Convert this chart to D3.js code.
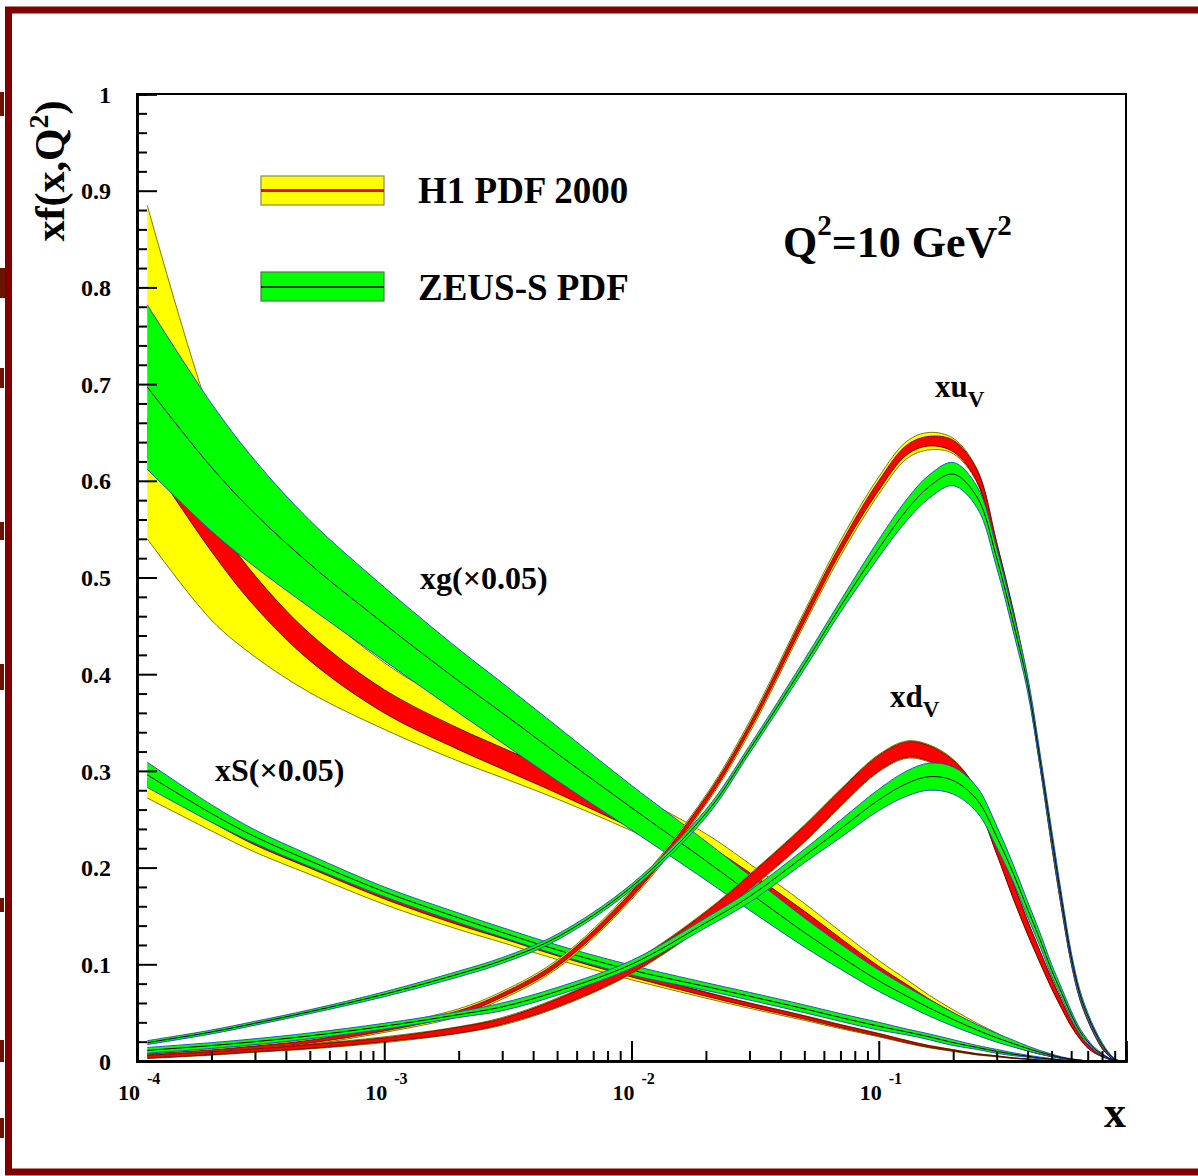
<!DOCTYPE html>
<html><head><meta charset="utf-8">
<script src="https://cdn.jsdelivr.net/npm/d3@7"></script>
<style>
body{margin:0;background:#fff;}
svg{display:block;}
text{font-family:"Liberation Serif","Times New Roman",serif;font-weight:bold;fill:#000;}
</style>
</head><body>
<svg id="c" width="1198" height="1176"></svg>
<script>
// ---------------- DATA ----------------
const xGrid = [1.1e-4, 2e-4, 3e-4, 5e-4, 1e-3, 2e-3, 3e-3, 5e-3, 0.01, 0.02, 0.03, 0.05, 0.07, 0.1, 0.13, 0.16, 0.2, 0.25, 0.3, 0.35, 0.4, 0.45, 0.5, 0.55, 0.6, 0.65, 0.7, 0.75, 0.8, 0.85, 0.9, 0.95];

// ZEUS-S PDF : central value and half-width of the band
const zeusXg   = [0.697, 0.614, 0.566, 0.514, 0.452, 0.393, 0.360, 0.318, 0.262, 0.207, 0.174, 0.133, 0.108, 0.083, 0.067, 0.055, 0.043, 0.032, 0.024, 0.018, 0.013, 0.009, 0.006, 0.0035, 0.002, 0.001, 0, 0, 0, 0, 0, 0];
const zeusXgE  = [0.085, 0.066, 0.055, 0.045, 0.038, 0.033, 0.031, 0.028, 0.023, 0.02, 0.018, 0.015, 0.013, 0.011, 0.0095, 0.0085, 0.007, 0.0055, 0.0045, 0.0035, 0.0025, 0.0018, 0.0012, 0.0007, 0.0003, 0, 0, 0, 0, 0, 0, 0];
const zeusXS   = [0.296, 0.256, 0.232, 0.207, 0.175, 0.148, 0.133, 0.115, 0.094, 0.077, 0.067, 0.054, 0.045, 0.036, 0.03, 0.025, 0.019, 0.014, 0.01, 0.007, 0.005, 0.003, 0.002, 0.001, 0.0005, 0, 0, 0, 0, 0, 0, 0];
const zeusXSE  = [0.013, 0.009, 0.007, 0.006, 0.005, 0.005, 0.005, 0.005, 0.005, 0.004, 0.004, 0.004, 0.004, 0.004, 0.003, 0.003, 0.003, 0.002, 0.002, 0.0015, 0.001, 0.001, 0.0005, 0.0003, 0, 0, 0, 0, 0, 0, 0, 0];
const zeusXuv  = [0.019, 0.030, 0.039, 0.051, 0.069, 0.09, 0.104, 0.128, 0.18, 0.256, 0.322, 0.41, 0.47, 0.53, 0.57, 0.594, 0.607, 0.583, 0.52, 0.453, 0.39, 0.31, 0.233, 0.165, 0.108, 0.07, 0.047, 0.03, 0.017, 0.008, 0.002, 0];
const zeusXuvE = [0.002, 0.002, 0.002, 0.002, 0.0025, 0.003, 0.003, 0.003, 0.003, 0.004, 0.004, 0.005, 0.006, 0.009, 0.011, 0.012, 0.012, 0.011, 0.01, 0.009, 0.008, 0.007, 0.007, 0.006, 0.005, 0.004, 0.003, 0.0025, 0.002, 0.001, 0.0005, 0];
const zeusXdv  = [0.011, 0.016, 0.020, 0.026, 0.036, 0.048, 0.056, 0.072, 0.10, 0.143, 0.17, 0.212, 0.24, 0.27, 0.287, 0.294, 0.29, 0.27, 0.232, 0.194, 0.157, 0.125, 0.094, 0.07, 0.048, 0.031, 0.02, 0.012, 0.007, 0.003, 0.001, 0];
const zeusXdvE = [0.003, 0.003, 0.003, 0.003, 0.003, 0.003, 0.004, 0.004, 0.004, 0.005, 0.006, 0.007, 0.009, 0.011, 0.013, 0.014, 0.014, 0.013, 0.011, 0.009, 0.008, 0.007, 0.006, 0.005, 0.004, 0.003, 0.002, 0.0015, 0.001, 0.0005, 0, 0];

// H1 PDF 2000 : central value, experimental half-width (red), total up / down (yellow)
const h1Xg     = [0.645, 0.545, 0.486, 0.428, 0.372, 0.333, 0.313, 0.288, 0.252, 0.213, 0.184, 0.145, 0.118, 0.09, 0.072, 0.058, 0.045, 0.033, 0.024, 0.017, 0.012, 0.008, 0.005, 0.003, 0.0015, 0.0005, 0, 0, 0, 0, 0, 0];
const h1XgE    = [0.02, 0.018, 0.016, 0.014, 0.012, 0.011, 0.011, 0.011, 0.011, 0.011, 0.011, 0.01, 0.009, 0.008, 0.007, 0.006, 0.005, 0.004, 0.003, 0.002, 0.0015, 0.001, 0.0005, 0.0003, 0, 0, 0, 0, 0, 0, 0, 0];
const h1XgTUp  = [0.24, 0.12, 0.075, 0.05, 0.04, 0.033, 0.03, 0.028, 0.025, 0.022, 0.02, 0.018, 0.016, 0.014, 0.012, 0.01, 0.008, 0.006, 0.005, 0.003, 0.002, 0.0015, 0.001, 0.0005, 0, 0, 0, 0, 0, 0, 0, 0];
const h1XgTDn  = [0.105, 0.089, 0.068, 0.047, 0.029, 0.023, 0.02, 0.017, 0.014, 0.012, 0.012, 0.011, 0.01, 0.009, 0.008, 0.007, 0.005, 0.004, 0.003, 0.002, 0.0015, 0.001, 0.0005, 0.0003, 0, 0, 0, 0, 0, 0, 0, 0];
const h1XS     = [0.288, 0.250, 0.226, 0.202, 0.170, 0.143, 0.129, 0.111, 0.089, 0.069, 0.058, 0.045, 0.036, 0.027, 0.02, 0.015, 0.011, 0.007, 0.005, 0.003, 0.002, 0.001, 0, 0, 0, 0, 0, 0, 0, 0, 0, 0];
const h1XSE    = [0.003, 0.0028, 0.0026, 0.0025, 0.0024, 0.0023, 0.0022, 0.0022, 0.0021, 0.002, 0.0018, 0.0016, 0.0014, 0.0012, 0.001, 0.0008, 0.0006, 0.0004, 0.0003, 0.0002, 0.0001, 0, 0, 0, 0, 0, 0, 0, 0, 0, 0, 0];
const h1XSTUp  = [0.004, 0.0035, 0.0033, 0.0032, 0.003, 0.003, 0.003, 0.0028, 0.0026, 0.0024, 0.0022, 0.002, 0.0018, 0.0016, 0.0013, 0.001, 0.0008, 0.0006, 0.0004, 0.0003, 0.0002, 0.0001, 0, 0, 0, 0, 0, 0, 0, 0, 0, 0];
const h1XSTDn  = [0.016, 0.012, 0.010, 0.009, 0.008, 0.007, 0.0065, 0.006, 0.005, 0.004, 0.0035, 0.003, 0.0025, 0.002, 0.0017, 0.0014, 0.0011, 0.0008, 0.0006, 0.0004, 0.0002, 0.0001, 0, 0, 0, 0, 0, 0, 0, 0, 0, 0];
const h1Xuv    = [0.006, 0.010, 0.014, 0.020, 0.033, 0.050, 0.068, 0.10, 0.172, 0.27, 0.345, 0.458, 0.53, 0.595, 0.632, 0.641, 0.636, 0.605, 0.53, 0.46, 0.39, 0.308, 0.228, 0.16, 0.104, 0.067, 0.044, 0.027, 0.014, 0.006, 0.001, 0];
const h1XuvE   = [0.0015, 0.0015, 0.0015, 0.0015, 0.002, 0.002, 0.002, 0.0025, 0.003, 0.003, 0.003, 0.004, 0.004, 0.005, 0.005, 0.005, 0.006, 0.006, 0.006, 0.006, 0.005, 0.005, 0.005, 0.004, 0.003, 0.003, 0.002, 0.0015, 0.001, 0.0005, 0, 0];
const h1XuvT   = [0.003, 0.003, 0.003, 0.003, 0.0035, 0.004, 0.004, 0.0045, 0.005, 0.005, 0.006, 0.007, 0.008, 0.009, 0.009, 0.009, 0.008, 0.007, 0.006, 0.006, 0.005, 0.005, 0.005, 0.004, 0.003, 0.003, 0.002, 0.0015, 0.001, 0.0005, 0, 0];
const h1Xdv    = [0.0045, 0.008, 0.011, 0.015, 0.022, 0.032, 0.041, 0.06, 0.096, 0.148, 0.185, 0.235, 0.272, 0.308, 0.322, 0.318, 0.303, 0.272, 0.222, 0.176, 0.138, 0.107, 0.08, 0.058, 0.039, 0.025, 0.015, 0.009, 0.005, 0.002, 0.0005, 0];
const h1XdvE   = [0.0015, 0.0015, 0.0015, 0.002, 0.002, 0.003, 0.003, 0.004, 0.005, 0.006, 0.007, 0.008, 0.008, 0.008, 0.008, 0.008, 0.008, 0.008, 0.008, 0.008, 0.007, 0.006, 0.005, 0.004, 0.003, 0.002, 0.0015, 0.001, 0.0005, 0, 0, 0];
const h1XdvT   = [0.002, 0.002, 0.002, 0.0025, 0.003, 0.0035, 0.004, 0.005, 0.006, 0.007, 0.008, 0.009, 0.009, 0.009, 0.009, 0.009, 0.009, 0.008, 0.008, 0.008, 0.007, 0.006, 0.005, 0.004, 0.003, 0.002, 0.0015, 0.001, 0.0005, 0, 0, 0];

// axis ticks / labels
const yMajorTicks = [0, 0.1, 0.2, 0.3, 0.4, 0.5, 0.6, 0.7, 0.8, 0.9, 1];
const yTickLabels = ["0", "0.1", "0.2", "0.3", "0.4", "0.5", "0.6", "0.7", "0.8", "0.9", "1"];
const xDecades = [1e-4, 1e-3, 1e-2, 1e-1, 1];
const xDecadeExp = ["-4", "-3", "-2", "-1"];
const legendLabels = ["H1 PDF 2000", "ZEUS-S PDF"];

// ---------------- DRAWING ----------------
const svg = d3.select('#c');
const W = 1198, H = 1176;
const x = d3.scaleLog().domain([1e-4, 1]).range([137, 1126]);
const y = d3.scaleLinear().domain([0, 1]).range([1061, 94]);

svg.append('rect').attr('width', W).attr('height', H).attr('fill', '#fff');

// left-edge fragments outside the frame
[[92, 24, 4], [268, 30, 10], [368, 20, 4], [522, 18, 4], [664, 26, 4], [898, 14, 4], [1040, 22, 4], [1118, 20, 4]]
  .forEach(([yy, hh, ww]) => svg.append('rect').attr('x', 0).attr('y', yy).attr('width', ww).attr('height', hh).attr('fill', '#6a1400'));

// outer dark-red frame
svg.append('rect').attr('x', 8.5).attr('y', 10).attr('width', 1210).attr('height', 1162)
  .attr('fill', 'none').attr('stroke', '#800000').attr('stroke-width', 7);

svg.append('defs').append('clipPath').attr('id', 'plotclip')
  .append('rect').attr('x', 137).attr('y', 94).attr('width', 989).attr('height', 967);

const plot = svg.append('g').attr('clip-path', 'url(#plotclip)');

function rows(c, lo, hi) {
  return xGrid.map((xv, i) => ({x: xv, c: c[i], lo: Math.max(0, c[i] - lo[i]), hi: c[i] + hi[i]}));
}
const curve = d3.curveCatmullRom.alpha(0.5);
const area = d3.area().x(d => x(d.x)).y0(d => y(d.lo)).y1(d => y(d.hi)).curve(curve);
const lineLo = d3.line().x(d => x(d.x)).y(d => y(d.lo)).curve(curve);
const lineHi = d3.line().x(d => x(d.x)).y(d => y(d.hi)).curve(curve);
const lineC  = d3.line().x(d => x(d.x)).y(d => y(d.c)).curve(curve);

function drawH1(c, e, tUp, tDn) {
  const tot = rows(c, tDn, tUp);
  const exp = rows(c, e, e);
  plot.append('path').attr('d', area(tot)).attr('fill', '#ffff00');
  plot.append('path').attr('d', lineHi(tot)).attr('fill', 'none').attr('stroke', '#6a6a00').attr('stroke-width', 0.9);
  plot.append('path').attr('d', lineLo(tot)).attr('fill', 'none').attr('stroke', '#6a6a00').attr('stroke-width', 0.9);
  plot.append('path').attr('d', area(exp)).attr('fill', '#ff0000');
  plot.append('path').attr('d', lineHi(exp)).attr('fill', 'none').attr('stroke', '#4a0000').attr('stroke-width', 0.8);
  plot.append('path').attr('d', lineLo(exp)).attr('fill', 'none').attr('stroke', '#4a0000').attr('stroke-width', 0.8);
}
function drawZeus(c, e) {
  const r = rows(c, e, e);
  plot.append('path').attr('d', area(r)).attr('fill', '#00ff00');
  plot.append('path').attr('d', lineHi(r)).attr('fill', 'none').attr('stroke', '#2a4fd0').attr('stroke-width', 1);
  plot.append('path').attr('d', lineLo(r)).attr('fill', 'none').attr('stroke', '#2a4fd0').attr('stroke-width', 1);
  plot.append('path').attr('d', lineC(r)).attr('fill', 'none').attr('stroke', '#000').attr('stroke-width', 1);
}

drawH1(h1Xg, h1XgE, h1XgTUp, h1XgTDn);
drawZeus(zeusXg, zeusXgE);
drawH1(h1XS, h1XSE, h1XSTUp, h1XSTDn);
drawZeus(zeusXS, zeusXSE);
drawH1(h1Xuv, h1XuvE, h1XuvT, h1XuvT);
drawZeus(zeusXuv, zeusXuvE);
drawH1(h1Xdv, h1XdvE, h1XdvT, h1XdvT);
drawZeus(zeusXdv, zeusXdvE);

// plot frame
svg.append('rect').attr('x', 137).attr('y', 94).attr('width', 989).attr('height', 967)
  .attr('fill', 'none').attr('stroke', '#000').attr('stroke-width', 2);

// Y axis
const yMinor = d3.range(0, 1.0001, 0.02).filter(v => Math.abs(v * 10 - Math.round(v * 10)) > 1e-6);
const yAxMinor = svg.append('g').attr('transform', 'translate(137,0)')
  .call(d3.axisLeft(y).tickValues(yMinor).tickSize(-10).tickFormat(''));
const yAx = svg.append('g').attr('transform', 'translate(137,0)')
  .call(d3.axisLeft(y).tickValues(yMajorTicks).tickSize(-20).tickPadding(26)
    .tickFormat((d, i) => yTickLabels[i]));
[yAx, yAxMinor].forEach(g => {
  g.select('.domain').attr('stroke-width', 2.5);
  g.selectAll('.tick line').attr('stroke-width', 2);
});
yAx.selectAll('.tick text').attr('font-size', 24).attr('font-family', '"Liberation Serif",serif')
  .attr('font-weight', 'bold').attr('dy', '0.34em');

// X axis
const xMinor = [];
for (let d = -4; d < 0; d++) for (let k = 2; k <= 9; k++) xMinor.push(k * Math.pow(10, d));
const xAxMinor = svg.append('g').attr('transform', 'translate(0,1061)')
  .call(d3.axisBottom(x).tickValues(xMinor).tickSize(-10).tickFormat(''));
const xAx = svg.append('g').attr('transform', 'translate(0,1061)')
  .call(d3.axisBottom(x).tickValues(xDecades).tickSize(-20).tickFormat(''));
[xAx, xAxMinor].forEach(g => {
  g.select('.domain').attr('stroke-width', 2.5);
  g.selectAll('.tick line').attr('stroke-width', 2);
});
xDecades.slice(0, 4).forEach((v, i) => {
  const px = x(v);
  svg.append('text').attr('x', px + 3).attr('y', 1100).attr('text-anchor', 'end')
    .attr('font-size', 22).text('10');
  svg.append('text').attr('x', px + 10).attr('y', 1084).attr('text-anchor', 'start')
    .attr('font-size', 16).text(xDecadeExp[i]);
});

// axis titles
const yt = svg.append('text').attr('transform', 'translate(64,171) rotate(-90)')
  .attr('text-anchor', 'middle').attr('font-size', 42);
yt.append('tspan').text('xf(x,Q');
yt.append('tspan').attr('font-size', 28).attr('dy', -16).text('2');
yt.append('tspan').attr('dy', 16).text(')');

svg.append('text').attr('x', 1126).attr('y', 1127).attr('text-anchor', 'end')
  .attr('font-size', 44).text('x');

// legend
svg.append('rect').attr('x', 261).attr('y', 176).attr('width', 123).attr('height', 29)
  .attr('fill', '#ffff00').attr('stroke', '#8a8a50').attr('stroke-width', 1.2);
svg.append('line').attr('x1', 261).attr('x2', 384).attr('y1', 190.5).attr('y2', 190.5)
  .attr('stroke', '#ff0000').attr('stroke-width', 3);
svg.append('rect').attr('x', 261).attr('y', 272).attr('width', 123).attr('height', 29)
  .attr('fill', '#00ff00').attr('stroke', '#4a7a4a').attr('stroke-width', 1.2);
svg.append('line').attr('x1', 261).attr('x2', 384).attr('y1', 287).attr('y2', 287)
  .attr('stroke', '#000').attr('stroke-width', 1.5);
svg.append('text').attr('x', 418).attr('y', 203).attr('font-size', 37).text(legendLabels[0]);
svg.append('text').attr('x', 418).attr('y', 300).attr('font-size', 37).text(legendLabels[1]);

// Q^2 label
const q = svg.append('text').attr('x', 783).attr('y', 257).attr('font-size', 44);
q.append('tspan').text('Q');
q.append('tspan').attr('font-size', 29).attr('dy', -22).text('2');
q.append('tspan').attr('dy', 22).text('=10 GeV');
q.append('tspan').attr('font-size', 29).attr('dy', -22).text('2');

// curve labels
function labelSub(px, py, main, sub) {
  const t = svg.append('text').attr('x', px).attr('y', py).attr('font-size', 31);
  t.append('tspan').text(main);
  t.append('tspan').attr('font-size', 23).attr('dy', 10).text(sub);
}
labelSub(935, 397, 'xu', 'V');
labelSub(890, 707, 'xd', 'V');
svg.append('text').attr('x', 420).attr('y', 589).attr('font-size', 32).text('xg(\u00d70.05)');
svg.append('text').attr('x', 215).attr('y', 781).attr('font-size', 32).text('xS(\u00d70.05)');
</script>
</body></html>
